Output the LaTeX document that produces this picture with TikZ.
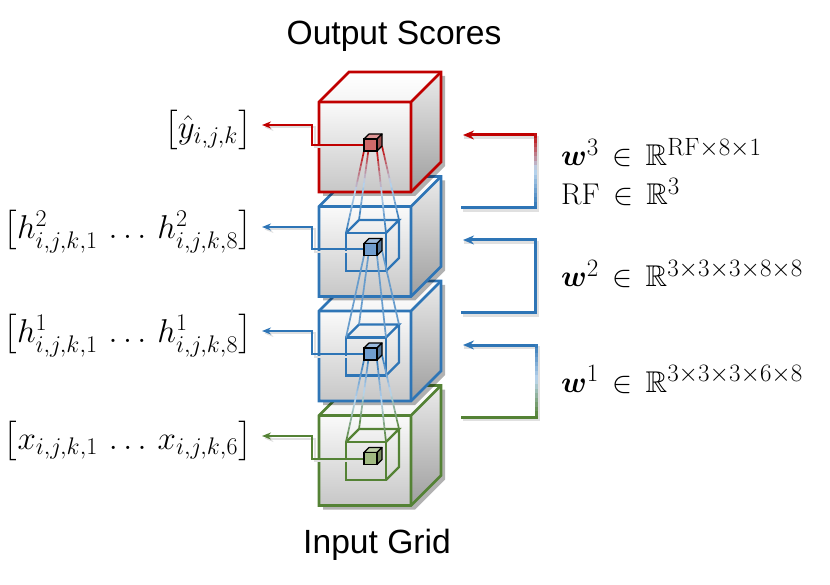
\RequirePackage{fix-cm}
\documentclass[tikz,border=0pt]{standalone}
\usepackage{amsmath}
\usepackage{amssymb}
\usepackage{fontspec}
\newfontfamily\arialfont{Liberation Sans}
\DeclareMathSizes{33}{33}{24}{17}
\DeclareMathSizes{30}{30}{25}{18}
\usepackage{tikz}
\usetikzlibrary{arrows.meta,calc,shadows}
\usepackage{xcolor}
\definecolor{cnnred}{RGB}{192,0,0}
\definecolor{cnnblue}{RGB}{46,117,182}
\definecolor{cnngreen}{RGB}{84,130,53}
\definecolor{cnnpale}{RGB}{189,215,238}
\definecolor{cnnredfill}{RGB}{208,105,105}
\definecolor{cnnbluefill}{RGB}{112,157,206}
\definecolor{cnngreenfill}{RGB}{160,186,130}
\tikzstyle{cubeedge} = [line width=2.8pt, line join=miter]
\tikzstyle{wireedge} = [line width=2.3pt]
\tikzstyle{rfline} = [line width=1.7pt]
\tikzstyle{outarrow} = [line width=2pt, -{Stealth[length=9pt,width=7pt]}]
\tikzstyle{wbracket} = [line width=3pt, line cap=rect]
\tikzstyle{lineshadow} = [black!12, transform canvas={shift={(2.5pt,-2.5pt)}}]

\pgfdeclarelayer{top}
\pgfsetlayers{main,top}

% big grid cube, front top-left corner at #1
\newcommand{\bigcube}[2]{%
  \begin{scope}[shift={#1}]
    \path[fill=white, drop shadow={shadow xshift=4pt, shadow yshift=-4pt, opacity=0.3, fill=black}]
      (0,0) -- (30,-30) -- (122,-30) -- (122,60) -- (92,90) -- (0,90) -- cycle;
    \shade[top color=black!8, bottom color=black!38] (92,0) -- (122,-30) -- (122,60) -- (92,90) -- cycle;
    \shade[top color=white, bottom color=black!4] (0,0) -- (30,-30) -- (122,-30) -- (92,0) -- cycle;
    \shade[top color=black!2, bottom color=black!22] (0,0) rectangle (92,90);
    \draw[cubeedge, #2] (0,0) -- (30,-30) -- (122,-30) -- (122,60) -- (92,90) -- (0,90) -- cycle;
    \draw[cubeedge, #2] (0,0) -- (92,0) -- (122,-30) (92,0) -- (92,90);
  \end{scope}}

% receptive field frame
\newcommand{\wirecube}[3]{%
  \begin{scope}[shift={#1}]
    \draw[wireedge, #2] (0,0) rectangle (40,38);
    \draw[wireedge, #2] (0,0) -- (13,-13) -- (53,-13) -- (40,0) (53,-13) -- (53,25) -- (40,38);
    \coordinate (#3-1) at (0,0);
    \coordinate (#3-2) at (40,0);
    \coordinate (#3-3) at (53,-13);
    \coordinate (#3-4) at (13,-13);
  \end{scope}}

% one voxel
\newcommand{\smallcube}[3]{%
  \begin{pgfonlayer}{top}
  \begin{scope}[shift={#1}]
    \filldraw[fill=#2!70!white, line width=1.2pt, line join=round] (0,0) -- (5,-5) -- (18,-5) -- (13,0) -- cycle;
    \filldraw[fill=#2!75!black, line width=1.2pt, line join=round] (13,0) -- (18,-5) -- (18,7) -- (13,12) -- cycle;
    \filldraw[fill=#2, line width=1.2pt] (0,0) rectangle (13,12);
  \end{scope}
  \end{pgfonlayer}
  \begin{scope}[shift={#1}]
    \coordinate (#3-w) at (0,6);
    \coordinate (#3-1) at (0,12);
    \coordinate (#3-2) at (13,12);
    \coordinate (#3-3) at (18,7);
    \coordinate (#3-4) at (5,7);
  \end{scope}}

% line fading from #4 over #5 to #6
\newcommand{\fadeline}[6][rfline]{%
  \foreach \k in {0,...,15}{
    \pgfmathsetmacro\ta{\k/16}
    \pgfmathsetmacro\tb{(\k+1)/16}
    \pgfmathtruncatemacro\mix{abs(100-200*(\k+0.5)/16)}
    \ifnum\k<8 \def\cc{#4!\mix!#5}\else\def\cc{#6!\mix!#5}\fi
    \draw[#1, color=\cc] ($(#2)!\ta!(#3)$) -- ($(#2)!\tb!(#3)$);
  }}

\begin{document}
\begin{tikzpicture}[
    x=1pt, y=-1pt,
    title/.style={font=\arialfont\fontsize{33.6}{40}\selectfont, anchor=base, inner sep=0pt},
    leftlabel/.style={anchor=east, inner xsep=10pt, inner ysep=0pt, font=\fontsize{33}{40}\selectfont},
    rightlabel/.style={anchor=base west, inner sep=0pt, font=\fontsize{30}{36}\selectfont}
]
\useasboundingbox (0,0) rectangle (830,585);

% Titles
\node[title] (out) at (394,45) {Output Scores};
\node[title] (in) at (377,553) {Input Grid};

% Cube stack (bottom first)
\bigcube{(319,415.5)}{cnngreen}
\bigcube{(319,311)}{cnnblue}
\bigcube{(319,206.5)}{cnnblue}
\bigcube{(319,102)}{cnnred}

% Receptive fields
\wirecube{(346,233)}{cnnblue}{w2}
\wirecube{(346,337.5)}{cnnblue}{w1}
\wirecube{(346,442)}{cnngreen}{w0}

% Voxels
\smallcube{(364,139)}{cnnredfill}{s3}
\smallcube{(364,243.5)}{cnnbluefill}{s2}
\smallcube{(364,348)}{cnnbluefill}{s1}
\smallcube{(364,452.5)}{cnngreenfill}{s0}

% Lines between layers
\foreach \c in {1,...,4}{
  \fadeline{s3-\c}{w2-\c}{cnnred}{cnnpale}{cnnblue}
  \fadeline{s2-\c}{w1-\c}{cnnblue}{cnnblue!60!cnnpale}{cnnblue}
  \fadeline{s1-\c}{w0-\c}{cnnblue}{cnnpale}{cnngreen}
}

% Feature labels (left)
\node[leftlabel] (ly) at (262,130) {$\bigl[\hat{y}_{i,j,k}\bigr]$};
\node[leftlabel] (lh2) at (262,232) {$\bigl[h^2_{i,j,k,1}\,\ldots\,h^2_{i,j,k,8}\bigr]$};
\node[leftlabel] (lh1) at (262,336) {$\bigl[h^1_{i,j,k,1}\,\ldots\,h^1_{i,j,k,8}\bigr]$};
\node[leftlabel] (lx) at (262,441) {$\bigl[x_{i,j,k,1}\,\ldots\,x_{i,j,k,6}\bigr]$};

% Arrows to labels
\draw[outarrow, lineshadow] (s3-w) -- ++(-52,0) |- ([yshift=5pt]ly.east);
\draw[outarrow, lineshadow] (s2-w) -- ++(-52,0) |- ([yshift=5pt]lh2.east);
\draw[outarrow, lineshadow] (s1-w) -- ++(-52,0) |- ([yshift=5pt]lh1.east);
\draw[outarrow, lineshadow] (s0-w) -- ++(-52,0) |- ([yshift=5pt]lx.east);
\draw[outarrow, cnnred] (s3-w) -- ++(-52,0) |- ([yshift=5pt]ly.east);
\draw[outarrow, cnnblue] (s2-w) -- ++(-52,0) |- ([yshift=5pt]lh2.east);
\draw[outarrow, cnnblue] (s1-w) -- ++(-52,0) |- ([yshift=5pt]lh1.east);
\draw[outarrow, cnngreen] (s0-w) -- ++(-52,0) |- ([yshift=5pt]lx.east);

% Weight brackets (right)
\coordinate (t3) at (463,135); \coordinate (k3) at (535,135);
\coordinate (j3) at (535,208); \coordinate (e3) at (462,208);
\coordinate (t2) at (463,240); \coordinate (k2) at (535,240);
\coordinate (j2) at (535,313); \coordinate (e2) at (462,313);
\coordinate (t1) at (463,345); \coordinate (k1) at (536,345);
\coordinate (j1) at (536,417); \coordinate (e1) at (462,417);

\foreach \n in {1,2,3}{
  \draw[wbracket, lineshadow] (t\n) -- (k\n) -- (j\n) -- (e\n);
}
\draw[wbracket, cnnred, -{Stealth[length=11pt,width=9pt]}] (k3) -- (t3);
\fadeline[wbracket]{k3}{j3}{cnnred}{cnnpale}{cnnblue}
\draw[wbracket, cnnblue] (j3) -- (e3);
\draw[wbracket, cnnblue, -{Stealth[length=11pt,width=9pt]}] (k2) -- (t2);
\draw[wbracket, cnnblue] (k2) -- (j2) -- (e2);
\draw[wbracket, cnnblue, -{Stealth[length=11pt,width=9pt]}] (k1) -- (t1);
\fadeline[wbracket]{k1}{j1}{cnnblue}{cnnpale}{cnngreen}
\draw[wbracket, cnngreen] (j1) -- (e1);

% Weight labels
\node[rightlabel] (w3) at (561,166) {$\boldsymbol{w}^3 \,\in\, \mathbb{R}^{\mathrm{RF}\times 8\times 1}$};
\node[rightlabel] (rf) at (561,205) {$\mathrm{RF} \,\in\, \mathbb{R}^3$};
\node[rightlabel] (w2) at (561,287) {$\boldsymbol{w}^2 \,\in\, \mathbb{R}^{3\times 3\times 3\times 8\times 8}$};
\node[rightlabel] (w1) at (561,392) {$\boldsymbol{w}^1 \,\in\, \mathbb{R}^{3\times 3\times 3\times 6\times 8}$};

\end{tikzpicture}
\end{document}
